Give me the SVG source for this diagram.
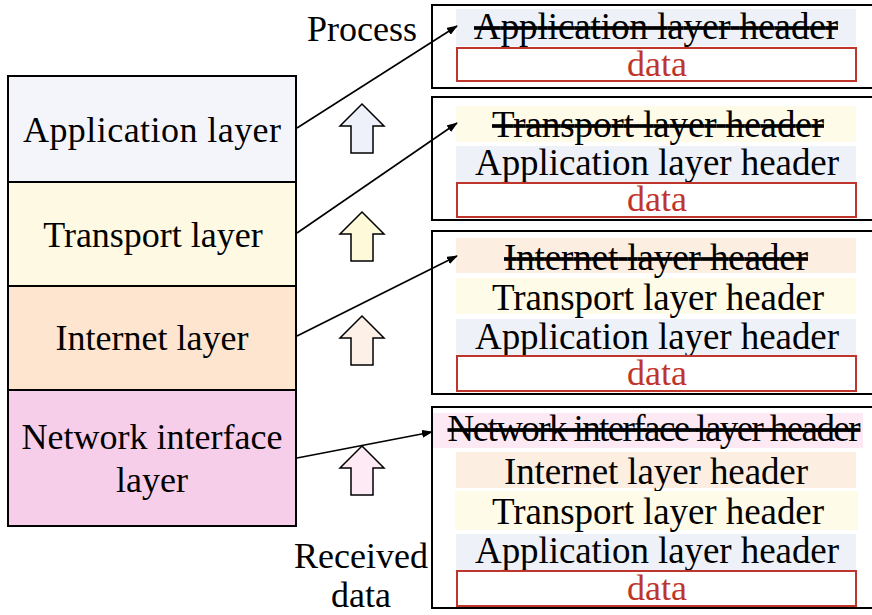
<svg xmlns="http://www.w3.org/2000/svg" width="872" height="615" viewBox="0 0 872 615">
<style>
text{font-family:"Liberation Serif","Times New Roman",serif;fill:#000}
.l{font-size:36px;text-anchor:middle}
.h{font-size:37px;text-anchor:middle}
.s{text-decoration:line-through}
.d{font-size:36px;text-anchor:middle;fill:#c0352b}
.box{fill:#fff;stroke:#000;stroke-width:2}
.stk{stroke:#000;stroke-width:2}
.dr{fill:#fff;stroke:#c0352b;stroke-width:2}
.ua{stroke:#000;stroke-width:1.5;stroke-linejoin:miter}
.cn{stroke:#000;stroke-width:1.6;fill:none;marker-end:url(#ah)}
</style>
<defs>
<marker id="ah" markerUnits="userSpaceOnUse" markerWidth="11" markerHeight="8" refX="10" refY="4" orient="auto">
<path d="M0,0 L11,4 L0,8 z" fill="#000"/>
</marker>
<path id="up" d="M0,0 L22,22 L11,22 L11,49 L-11,49 L-11,22 L-22,22 Z"/>
</defs>

<g id="stack">
<g id="app-layer"><rect x="8" y="76" width="288" height="106" fill="#f4f5fa" class="stk"/><text class="l" x="152" y="142" textLength="258">Application layer</text></g>
<g id="transport-layer"><rect x="8" y="182" width="288" height="104" fill="#fef9e3" class="stk"/><text class="l" x="153" y="247">Transport layer</text></g>
<g id="internet-layer"><rect x="8" y="286" width="288" height="104" fill="#fde5d0" class="stk"/><text class="l" x="152" y="350">Internet layer</text></g>
<g id="network-layer"><rect x="8" y="390" width="288" height="136" fill="#f6cee9" class="stk"/><text class="l" x="152" y="449">Network interface</text><text class="l" x="152" y="492">layer</text></g>
</g>

<g id="label-process"><text class="l" x="362" y="41">Process</text></g>
<g id="label-received"><text class="l" x="361" y="568">Received</text><text class="l" x="361" y="607">data</text></g>

<g id="up-arrows">
<use href="#up" x="362" y="104" fill="#eef1f9" class="ua"/>
<use href="#up" x="362" y="212" fill="#fef9d8" class="ua"/>
<use href="#up" x="362" y="316" fill="#fdf0e6" class="ua"/>
<use href="#up" x="362" y="446" fill="#fdeaf4" class="ua"/>
</g>

<g id="packet1">
<rect class="box" x="432" y="5" width="460" height="83"/>
<rect x="456" y="9" width="400" height="37" fill="#eef1f8"/>
<text class="h s" x="656" y="39" textLength="364">Application layer header</text>
<rect class="dr" x="457" y="48" width="399" height="33"/>
<text class="d" x="657" y="76">data</text>
</g>

<g id="packet2">
<rect class="box" x="432" y="97" width="460" height="123"/>
<rect x="456" y="106" width="400" height="36" fill="#fefbe9"/>
<text class="h s" x="658" y="137" textLength="332">Transport layer header</text>
<rect x="456" y="146" width="400" height="37" fill="#eef1f8"/>
<text class="h" x="657" y="175" textLength="364">Application layer header</text>
<rect class="dr" x="457" y="183" width="399" height="34"/>
<text class="d" x="657" y="211">data</text>
</g>

<g id="packet3">
<rect class="box" x="432" y="231" width="460" height="163"/>
<rect x="456" y="238" width="400" height="35" fill="#fdeee2"/>
<text class="h s" x="656" y="270" textLength="304">Internet layer header</text>
<rect x="456" y="278" width="400" height="36" fill="#fefbe9"/>
<text class="h" x="658" y="310" textLength="332">Transport layer header</text>
<rect x="456" y="319" width="400" height="36" fill="#eef1f8"/>
<text class="h" x="657" y="349" textLength="364">Application layer header</text>
<rect class="dr" x="457" y="356" width="399" height="35"/>
<text class="d" x="657" y="385">data</text>
</g>

<g id="packet4">
<rect class="box" x="432" y="407" width="460" height="201"/>
<rect x="433" y="413" width="430" height="35" fill="#fde9f3"/>
<text class="h s" x="654" y="441" textLength="413">Network interface layer header</text>
<rect x="456" y="452" width="400" height="36" fill="#fdeee2"/>
<text class="h" x="656" y="484" textLength="304">Internet layer header</text>
<rect x="455" y="491" width="403" height="39" fill="#fefbe9"/>
<text class="h" x="658" y="524" textLength="332">Transport layer header</text>
<rect x="456" y="534" width="400" height="36" fill="#eef1f8"/>
<text class="h" x="657" y="563" textLength="364">Application layer header</text>
<rect class="dr" x="457" y="571" width="399" height="35"/>
<text class="d" x="657" y="600">data</text>
</g>

<g id="connectors">
<line class="cn" x1="297" y1="128" x2="457" y2="26"/>
<line class="cn" x1="297" y1="233" x2="457" y2="123"/>
<line class="cn" x1="297" y1="336" x2="457" y2="256"/>
<line class="cn" x1="297" y1="458" x2="432" y2="432"/>
</g>
</svg>
